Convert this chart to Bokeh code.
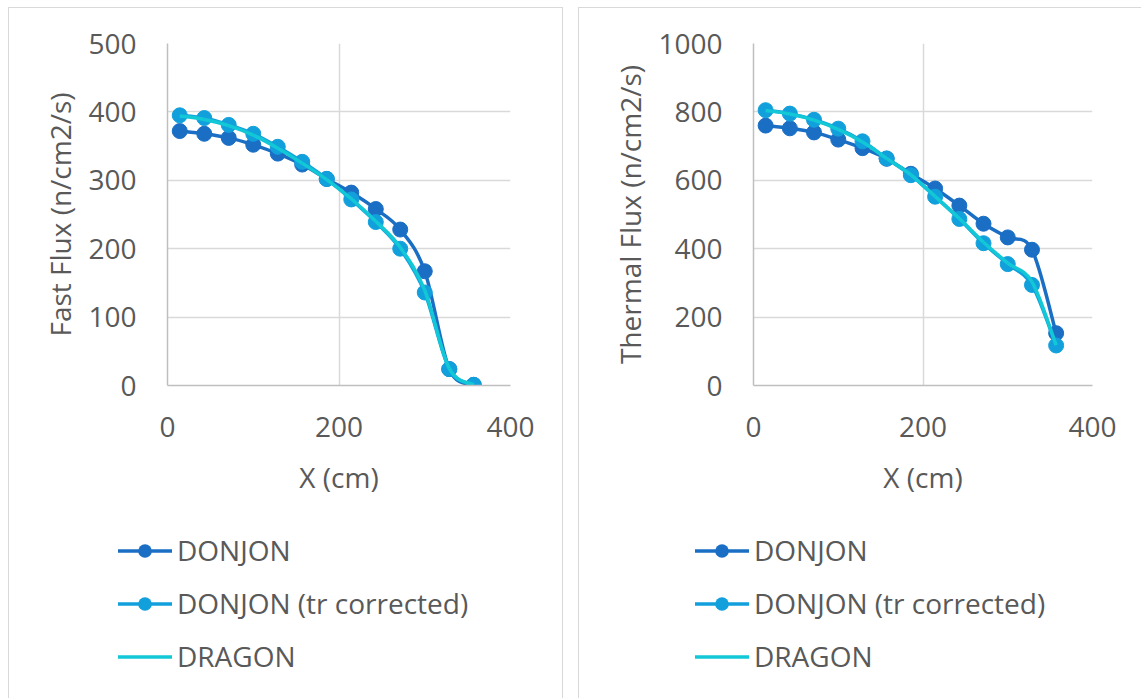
from bokeh.plotting import figure
from bokeh.models import Range1d, ColumnDataSource, FixedTicker, Div
from bokeh.layouts import row, column
from bokeh.embed import file_html
from bokeh.resources import INLINE

# Node positions along the core (cm)
x_cm = [14.3, 42.9, 71.4, 100.0, 128.6, 157.1, 185.7, 214.3, 242.9, 271.4, 300.0, 328.6, 357.1]

# Fast flux (n/cm2/s)
fast_donjon = [372, 368, 362, 352, 339, 323, 302, 282, 258, 228, 167, 24, 1]
fast_donjon_tr = [395, 391, 381, 368, 349, 327, 302, 272, 239, 200, 136, 24, 1]
fast_dragon = [394, 389, 380, 366, 347, 325, 301, 273, 240, 202, 139, 25, 1]

# Thermal flux (n/cm2/s)
thermal_donjon = [760, 752, 740, 719, 694, 663, 619, 576, 526, 473, 433, 397, 153]
thermal_donjon_tr = [805, 795, 777, 751, 714, 664, 615, 552, 487, 416, 355, 294, 117]
thermal_dragon = [804, 794, 776, 749, 712, 664, 616, 553, 488, 419, 358, 303, 118]

series_names = ["DONJON", "DONJON (tr corrected)", "DRAGON"]
x_ticks = [0, 200, 400]
fast_ticks = [0, 100, 200, 300, 400, 500]
thermal_ticks = [0, 200, 400, 600, 800, 1000]

FONT = "Open Sans"
FONT_SIZE = "28px"
TEXT = "#595959"
GRID = "#d9d9d9"
AXIS = "#bfbfbf"
C_DONJON = "#1a6ec4"
C_TR = "#12a0dc"
C_DRAGON = "#12c8d6"
SERIES_COLORS = [C_DONJON, C_TR, C_DRAGON]
SERIES_MARKERS = [True, True, False]
LW = 3.5
MS = 15
EDGE = "1px solid #d9d9d9"
KEY_HEIGHT = 180


def smooth_source(xs, ys, k=1.0 / 6.0):
    """Cubic Bezier segments through every point (Catmull-Rom style smoothing)."""
    n = len(xs)
    d = dict(x0=[], y0=[], x1=[], y1=[], cx0=[], cy0=[], cx1=[], cy1=[])
    for i in range(n - 1):
        xp, yp = (xs[i - 1], ys[i - 1]) if i > 0 else (xs[i], ys[i])
        xn, yn = (xs[i + 2], ys[i + 2]) if i + 2 < n else (xs[i + 1], ys[i + 1])
        d["x0"].append(xs[i]); d["y0"].append(ys[i])
        d["x1"].append(xs[i + 1]); d["y1"].append(ys[i + 1])
        d["cx0"].append(xs[i] + (xs[i + 1] - xp) * k)
        d["cy0"].append(ys[i] + (ys[i + 1] - yp) * k)
        d["cx1"].append(xs[i + 1] - (xn - xs[i]) * k)
        d["cy1"].append(ys[i + 1] - (yn - ys[i]) * k)
    return ColumnDataSource(d)


def make_chart(y_label, y_max, y_ticks, donjon, donjon_tr, dragon,
               width, border_left, border_right, css):
    p = figure(width=width, height=511,
               x_range=Range1d(0, 400), y_range=Range1d(0, y_max),
               output_backend="svg", toolbar_location=None,
               min_border_left=border_left, min_border_right=border_right,
               min_border_top=35, min_border_bottom=134)
    p.outline_line_color = None
    p.styles = css
    p.margin = 0

    p.xaxis.ticker = FixedTicker(ticks=x_ticks)
    p.yaxis.ticker = FixedTicker(ticks=y_ticks)
    p.xaxis.axis_label = "X (cm)"
    p.yaxis.axis_label = y_label
    for ax in (p.xaxis, p.yaxis):
        ax.axis_line_color = AXIS
        ax.axis_line_width = 1.5
        ax.major_tick_line_color = None
        ax.minor_tick_line_color = None
        ax.major_label_text_font = FONT
        ax.major_label_text_font_size = FONT_SIZE
        ax.major_label_text_color = TEXT
        ax.axis_label_text_font = FONT
        ax.axis_label_text_font_size = FONT_SIZE
        ax.axis_label_text_font_style = "normal"
        ax.axis_label_text_color = TEXT
    p.xaxis.major_label_standoff = 25
    p.xaxis.axis_label_standoff = 18
    p.yaxis.major_label_standoff = 25
    p.yaxis.axis_label_standoff = 6
    for g in (p.xgrid, p.ygrid):
        g.grid_line_color = GRID
        g.grid_line_width = 1.5

    for ys, color, markers in zip((donjon, donjon_tr, dragon), SERIES_COLORS,
                                  SERIES_MARKERS):
        p.bezier(x0="x0", y0="y0", x1="x1", y1="y1", cx0="cx0", cy0="cy0",
                 cx1="cx1", cy1="cy1", source=smooth_source(x_cm, ys),
                 line_color=color, line_width=LW)
        if markers:
            p.scatter(x=x_cm, y=ys, size=MS, fill_color=color, line_color=color)
    return p


def make_legend(width, left, css):
    """Series key shown under each chart: swatch line (+ dot) and name."""
    rows_top = [16, 69, 122]
    parts = []
    for name, color, markers, top in zip(series_names, SERIES_COLORS,
                                         SERIES_MARKERS, rows_top):
        dot = (f'<circle cx="27" cy="17" r="6.8" fill="{color}"/>' if markers else "")
        parts.append(
            f'<svg style="position:absolute;left:{left}px;top:{top}px" '
            f'width="54" height="34"><line x1="0" y1="17" x2="54" y2="17" '
            f'stroke="{color}" stroke-width="{LW}"/>{dot}</svg>'
            f'<span style="position:absolute;left:{left + 59}px;top:{top - 1}px;'
            f'line-height:34px;white-space:nowrap">{name}</span>'
        )
    html = (f'<div style="position:relative;width:{width - 2}px;height:{KEY_HEIGHT}px;'
            f"font-family:'{FONT}';font-size:{FONT_SIZE};color:{TEXT}\">"
            + "".join(parts) + "</div>")
    d = Div(text=html, width=width, height=KEY_HEIGHT)
    d.styles = css
    d.margin = 0
    return d


fast_chart = make_chart("Fast Flux (n/cm2/s)", 500, fast_ticks,
                        fast_donjon, fast_donjon_tr, fast_dragon,
                        width=555, border_left=158, border_right=54,
                        css={"border-top": EDGE, "border-left": EDGE,
                             "border-right": EDGE})
fast_key = make_legend(555, 109, {"border-left": EDGE, "border-right": EDGE})

thermal_chart = make_chart("Thermal Flux (n/cm2/s)", 1000, thermal_ticks,
                           thermal_donjon, thermal_donjon_tr, thermal_dragon,
                           width=563, border_left=174, border_right=50,
                           css={"border-top": EDGE, "border-left": EDGE})
thermal_key = make_legend(563, 116, {"border-left": EDGE})

left_panel = column(fast_chart, fast_key, spacing=0)
right_panel = column(thermal_chart, thermal_key, spacing=0)
left_panel.margin = (7, 0, 0, 8)
right_panel.margin = (7, 0, 0, 15)

layout = row(left_panel, right_panel, spacing=0)

open("out.html", "w").write(file_html(layout, INLINE))
